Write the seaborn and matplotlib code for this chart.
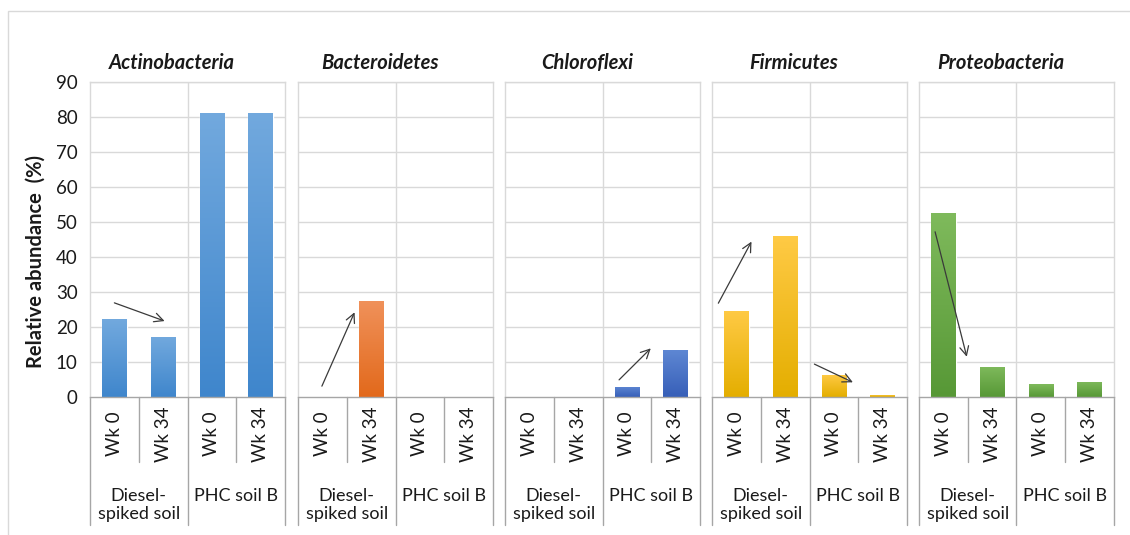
import numpy as np
import pandas as pd
import matplotlib
matplotlib.use("Agg")
import matplotlib.pyplot as plt
import matplotlib.patches as mpatches
from matplotlib.colors import LinearSegmentedColormap
import seaborn as sns

# ---- data -------------------------------------------------------------
phyla = ["Actinobacteria", "Bacteroidetes", "Chloroflexi", "Firmicutes", "Proteobacteria"]
soils = ["Diesel-\nspiked soil", "PHC soil B"]
weeks = ["Wk 0", "Wk 34"]

# order within each phylum: diesel Wk0, diesel Wk34, PHC Wk0, PHC Wk34
actinobacteria = [22.2, 17.2, 81.2, 81.2]
bacteroidetes = [0.0, 27.4, 0.0, 0.0]
chloroflexi = [0.0, 0.0, 2.9, 13.3]
firmicutes = [24.6, 46.0, 6.3, 0.7]
proteobacteria = [52.7, 8.7, 3.7, 4.4]

# trend arrows: (x_from, y_from, x_to, y_to) in category/value units
arrows_actino = [(0.0, 26.9, 1.03, 21.7)]
arrows_bactero = [(-0.01, 3.1, 0.66, 24.2)]
arrows_chloro = [(1.84, 4.9, 2.49, 13.9)]
arrows_firmi = [(-0.37, 26.8, 0.31, 44.4), (1.6, 9.4, 2.39, 4.2)]
arrows_proteo = [(-0.17, 47.2, 0.48, 11.5)]

yticks = [0, 10, 20, 30, 40, 50, 60, 70, 80, 90]

values = [actinobacteria, bacteroidetes, chloroflexi, firmicutes, proteobacteria]
arrows = [arrows_actino, arrows_bactero, arrows_chloro, arrows_firmi, arrows_proteo]

# gradient colours (top, bottom) per phylum
grad = [
    ("#72a9de", "#3f86cc"),
    ("#f0915a", "#e2691b"),
    ("#5e87d3", "#375fb8"),
    ("#ffca45", "#e4ae00"),
    ("#7fba5c", "#579836"),
]

rows = []
for p, vals in zip(phyla, values):
    i = 0
    for s in soils:
        for w in weeks:
            rows.append({"phylum": p, "soil": s, "week": w,
                         "cat": f"{s}|{w}", "value": vals[i]})
            i += 1
df = pd.DataFrame(rows)
cat_order = [f"{s}|{w}" for s in soils for w in weeks]

# ---- style ------------------------------------------------------------
sns.set_theme(style="white")
plt.rcParams["font.family"] = ["Lato", "DejaVu Sans"]

W, H = 1130, 535
fig = plt.figure(figsize=(W / 100, H / 100), dpi=100)

# light outer frame
fig.patches.append(mpatches.Rectangle((8 / W, -0.05), 1.2, 1 - 11 / H + 0.05,
                                      transform=fig.transFigure, fill=False,
                                      edgecolor="#d9d9d9", lw=1.0))

grid_c = "#d9d9d9"
axis_c = "#a6a6a6"
text_c = "#1a1a1a"

panel_left = [90, 298, 505, 712, 919]
panel_w = 195
y0_px, y1_px = 397, 82
ax_h = (y0_px - y1_px) / H

for k, (p, left) in enumerate(zip(phyla, panel_left)):
    ax = fig.add_axes([left / W, (H - y0_px) / H, panel_w / W, ax_h])
    sub = df[df["phylum"] == p]
    sns.barplot(data=sub, x="cat", y="value", order=cat_order, color=grad[k][1],
                width=0.5, ax=ax, saturation=1)
    ax.set_ylim(0, 90)
    ax.set_xlim(-0.5, 3.5)

    # vertical gradient in each bar
    cmap = LinearSegmentedColormap.from_list(p, [grad[k][1], grad[k][0]])
    g = np.linspace(0, 1, 256).reshape(-1, 1)
    for bar in ax.patches:
        h = bar.get_height()
        if h <= 0:
            continue
        x = bar.get_x()
        w = bar.get_width()
        im = ax.imshow(g, cmap=cmap, origin="lower", aspect="auto",
                       extent=[x, x + w, 0, h], zorder=bar.get_zorder() + 0.1)
        im.set_clip_path(bar)
    ax.set_xlim(-0.5, 3.5)
    ax.set_ylim(0, 90)

    # grid
    ax.set_yticks(yticks)
    for yv in yticks[1:]:
        ax.axhline(yv, color=grid_c, lw=1.0, zorder=0)
    ax.axvline(1.5, color=grid_c, lw=1.0, zorder=0)

    for side in ["top", "left", "right"]:
        ax.spines[side].set_color(grid_c)
        ax.spines[side].set_linewidth(1.0)
    ax.spines["bottom"].set_color(axis_c)
    ax.spines["bottom"].set_linewidth(1.0)

    ax.set_xticks([])
    ax.set_xlabel("")
    ax.set_ylabel("")
    ax.tick_params(axis="y", length=0, pad=9, labelsize=13.5, labelcolor=text_c)
    if k > 0:
        ax.set_yticklabels([])

    # title
    ax.text(0.42, 1.061, p, transform=ax.transAxes, ha="center", va="center",
            fontsize=14.5, fontweight="bold", fontstyle="italic", color=text_c)

    # arrows
    for (xa, ya, xb, yb) in arrows[k]:
        ax.annotate("", xy=(xb, yb), xytext=(xa, ya),
                    arrowprops=dict(arrowstyle="->", color="#3a3a3a", lw=0.9,
                                    mutation_scale=16, shrinkA=0, shrinkB=0),
                    zorder=5)

    # multi-level category axis
    tr = ax.get_xaxis_transform()
    for xs in [0.5, 2.5]:
        ax.plot([xs, xs], [0, -0.206], transform=tr, color=axis_c, lw=1.0,
                clip_on=False)
    for xs in [-0.5, 1.5, 3.5]:
        ax.plot([xs, xs], [0, -0.406], transform=tr, color=axis_c, lw=1.0,
                clip_on=False)
    for i, c in enumerate(cat_order):
        wk = c.split("|")[1]
        ax.text(i, -0.118, wk, transform=tr, rotation=90, ha="center",
                va="center", fontsize=13.5, color=text_c)
    for j, s in enumerate(soils):
        ax.text(2 * j + 0.5, -0.29, s, transform=tr, ha="center", va="top",
                fontsize=13, color=text_c, linespacing=1.15)

fig.text(36 / W, 1 - 262 / H, "Relative abundance  (%)", rotation=90,
         ha="center", va="center", fontsize=14.5, fontweight="bold",
         color=text_c)

fig.savefig("out.png", dpi=100)
